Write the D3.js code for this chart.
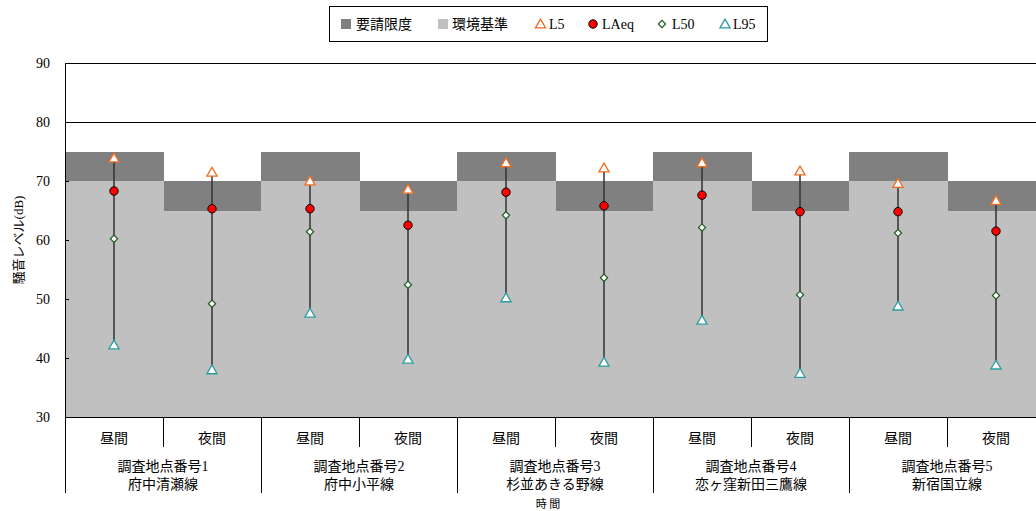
<!DOCTYPE html>
<html><head><meta charset="utf-8">
<script src="https://cdn.jsdelivr.net/npm/d3@7"></script>
<style>body{margin:0;background:#fff}svg text{font-family:"Liberation Serif","Noto Sans CJK JP",serif;}</style>
</head><body><svg id="c" width="1036" height="511"></svg>
<script>
const stations = ["調査地点番号1","調査地点番号2","調査地点番号3","調査地点番号4","調査地点番号5"];
const routes = ["府中清瀬線","府中小平線","杉並あきる野線","恋ヶ窪新田三鷹線","新宿国立線"];
const periods = ["昼間","夜間"];
const categories = ["S1昼","S1夜","S2昼","S2夜","S3昼","S3夜","S4昼","S4夜","S5昼","S5夜"];
const requestLimit = [75,70,75,70,75,70,75,70,75,70];
const envStandard = [70,65,70,65,70,65,70,65,70,65];
const L5   = [73.9,71.5,70.0,68.6,73.1,72.2,73.1,71.7,69.6,66.7];
const LAeq = [68.3,65.3,65.3,62.5,68.1,65.8,67.6,64.8,64.8,61.5];
const L50  = [60.2,49.2,61.4,52.4,64.2,53.6,62.1,50.7,61.2,50.6];
const L95  = [42.2,38.0,47.6,39.8,50.2,39.3,46.4,37.4,48.8,38.8];
const yTicks = [30,40,50,60,70,80,90];

const svg = d3.select("#c");
const m = {l:65, t:63, r:1045, b:417};
const x = d3.scaleBand().domain(categories).range([m.l, m.r]).padding(0);
const y = d3.scaleLinear().domain([30,90]).range([m.b, m.t]);
const cx = c => x(c) + x.bandwidth()/2;

// gridlines
svg.append("g").selectAll("line").data(yTicks).join("line")
  .attr("x1", m.l).attr("x2", m.r).attr("y1", d=>y(d)).attr("y2", d=>y(d))
  .attr("stroke", "#000").attr("stroke-width", 1).attr("shape-rendering","crispEdges");

// bars: request limit (dark) and env standard (light)
svg.append("g").selectAll("rect").data(categories).join("rect")
  .attr("x", c=>x(c)).attr("width", x.bandwidth()+0.5)
  .attr("y", (c,i)=>y(requestLimit[i])).attr("height", (c,i)=>y(envStandard[i])-y(requestLimit[i]))
  .attr("fill", "#808080").attr("shape-rendering","crispEdges");
svg.append("g").selectAll("rect").data(categories).join("rect")
  .attr("x", c=>x(c)).attr("width", x.bandwidth()+0.5)
  .attr("y", (c,i)=>y(envStandard[i])).attr("height", (c,i)=>y(30)-y(envStandard[i]))
  .attr("fill", "#c0c0c0").attr("shape-rendering","crispEdges");

// axes
const yAxis = d3.axisLeft(y).tickValues(yTicks).tickSize(-4).tickPadding(15);
const ga = svg.append("g").attr("transform",`translate(${m.l},0)`).call(yAxis);
ga.select(".domain").remove();
ga.selectAll(".tick line").attr("stroke","#000");
ga.selectAll("text").attr("font-size",14).attr("fill","#000");
svg.append("line").attr("x1",m.l).attr("x2",m.l).attr("y1",m.t).attr("y2",493).attr("stroke","#000").attr("shape-rendering","crispEdges");
svg.append("line").attr("x1",m.l).attr("x2",m.r).attr("y1",m.b).attr("y2",m.b).attr("stroke","#000").attr("shape-rendering","crispEdges");
svg.append("line").attr("x1",m.l).attr("x2",m.r).attr("y1",m.t).attr("y2",m.t).attr("stroke","#000").attr("shape-rendering","crispEdges");

// x category separators
categories.forEach((c,i)=>{
  if(i===0) return;
  const xx = Math.round(x(c));
  svg.append("line").attr("x1",xx).attr("x2",xx).attr("y1",m.b)
    .attr("y2", i%2===0 ? 493 : 447).attr("stroke","#000").attr("shape-rendering","crispEdges");
});
// period labels
svg.append("g").selectAll("text").data(categories).join("text")
  .attr("x", cx).attr("y", 443).attr("text-anchor","middle").attr("font-size",14)
  .text((c,i)=>periods[i%2]);
// station labels
stations.forEach((s,j)=>{
  const xm = x(categories[2*j]) + x.bandwidth();
  svg.append("text").attr("x",xm).attr("y",471).attr("text-anchor","middle").attr("font-size",14).text(s);
  svg.append("text").attr("x",xm).attr("y",489).attr("text-anchor","middle").attr("font-size",14).text(routes[j]);
});
svg.append("text").attr("x",548).attr("y",508).attr("text-anchor","middle").attr("font-size",11).text("時 間");
svg.append("text").attr("transform","translate(23,240) rotate(-90)").attr("text-anchor","middle").attr("font-size",13).text("騒音レベル(dB)");

// whiskers
svg.append("g").selectAll("line").data(categories).join("line")
  .attr("x1",cx).attr("x2",cx).attr("y1",(c,i)=>y(L95[i])).attr("y2",(c,i)=>y(L5[i]))
  .attr("stroke","#333").attr("stroke-width",1.5);

const tri = d3.symbol().type(d3.symbolTriangle).size(45);
const dia = d3.symbol().type(d3.symbolSquare).size(26);
function drawTri(arr, col){
  svg.append("g").selectAll("path").data(categories).join("path")
    .attr("d", tri).attr("transform",(c,i)=>`translate(${cx(c)},${y(arr[i])+1})`)
    .attr("fill","#fff").attr("stroke",col).attr("stroke-width",1.3);
}
drawTri(L5, "#f26c1f");
drawTri(L95, "#2a9d9f");
svg.append("g").selectAll("path").data(categories).join("path")
  .attr("d", dia).attr("transform",(c,i)=>`translate(${cx(c)},${y(L50[i])}) rotate(45)`)
  .attr("fill","#fff").attr("stroke","#1e5a1e").attr("stroke-width",1.2);
svg.append("g").selectAll("circle").data(categories).join("circle")
  .attr("cx",cx).attr("cy",(c,i)=>y(LAeq[i])).attr("r",4.2)
  .attr("fill","#ff0000").attr("stroke","#000").attr("stroke-width",1);

// legend
const lg = svg.append("g");
lg.append("rect").attr("x",329.5).attr("y",6.5).attr("width",438).attr("height",35).attr("fill","#fff").attr("stroke","#000");
const ly = 24;
lg.append("rect").attr("x",341).attr("y",ly-5).attr("width",10).attr("height",10).attr("fill","#808080");
lg.append("text").attr("x",356).attr("y",ly+5).attr("font-size",14).text("要請限度");
lg.append("rect").attr("x",438).attr("y",ly-5).attr("width",10).attr("height",10).attr("fill","#c0c0c0");
lg.append("text").attr("x",452).attr("y",ly+5).attr("font-size",14).text("環境基準");
lg.append("path").attr("d",tri).attr("transform",`translate(540.5,${ly+1})`).attr("fill","#fff").attr("stroke","#f26c1f").attr("stroke-width",1.3);
lg.append("text").attr("x",549).attr("y",ly+5).attr("font-size",14).text("L5");
lg.append("circle").attr("cx",593).attr("cy",ly).attr("r",4.2).attr("fill","#ff0000").attr("stroke","#000");
lg.append("text").attr("x",602).attr("y",ly+5).attr("font-size",14).text("LAeq");
lg.append("path").attr("d",dia).attr("transform",`translate(662,${ly}) rotate(45)`).attr("fill","#fff").attr("stroke","#1e5a1e").attr("stroke-width",1.2);
lg.append("text").attr("x",672).attr("y",ly+5).attr("font-size",14).text("L50");
lg.append("path").attr("d",tri).attr("transform",`translate(725,${ly+1})`).attr("fill","#fff").attr("stroke","#2a9d9f").attr("stroke-width",1.3);
lg.append("text").attr("x",733).attr("y",ly+5).attr("font-size",14).text("L95");
</script></body></html>
